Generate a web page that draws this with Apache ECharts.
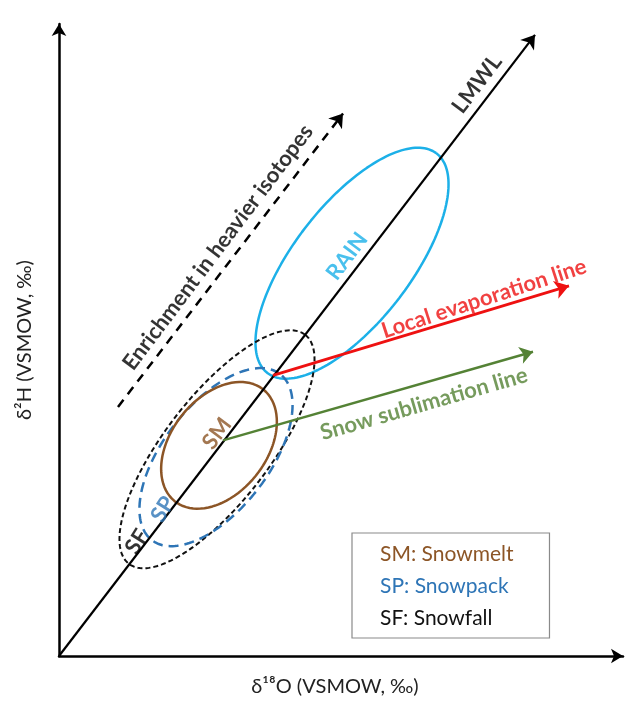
<!DOCTYPE html>
<html>
<head>
<meta charset="utf-8">
<script src="https://cdn.jsdelivr.net/npm/echarts@6/dist/echarts.min.js"></script>
<style>
html,body{margin:0;padding:0;background:#fff;}
#chart{width:630px;height:702px;}
</style>
</head>
<body>
<div id="chart"></div>
<script>
// ---- data (conceptual diagram units: δ18O on x, δ2H on y) ----
const xAxisName = 'δ¹⁸O (VSMOW, ‰)';
const yAxisName = 'δ²H (VSMOW, ‰)';

const lmwl = [[0, 0], [47.6, 63.1]];
const enrichmentArrow = [[5.9, 25.3], [28.4, 55.1]];
const evaporationLine = [[21.4, 28.5], [51.0, 37.6]];
const sublimationLine = [[16.4, 21.9], [47.4, 30.9]];

const ellipseNames = ['RAIN', 'SF: Snowfall', 'SP: Snowpack', 'SM: Snowmelt'];
const ellipseCenters = [[29.3, 39.9], [15.8, 21.0], [15.7, 20.2], [16.0, 21.4]];
const ellipseSemiMajor = [14.0, 14.6, 10.6, 7.2];
const ellipseSemiMinor = [5.9, 5.3, 5.3, 4.8];
const ellipseTiltDeg = [53, 53, 53, 53];

const annotationTexts = ['LMWL', 'Enrichment in heavier isotopes', 'RAIN', 'SM', 'SP', 'SF',
  'Local evaporation line', 'Snow sublimation line'];
const annotationPos = [[41.8, 58.1], [15.9, 41.5], [28.8, 40.6], [15.8, 22.6], [10.4, 14.9], [7.8, 11.6],
  [42.5, 36.3], [36.5, 25.6]];
const annotationRotate = [53, 53, 53, 53, 58, 58, 18, 16];

const legendNames = ['SM: Snowmelt', 'SP: Snowpack', 'SF: Snowfall'];

// ---- styles ----
const FONT = 'Lato';
const C = {
  rain: '#1cb0e8', sf: '#111111', sp: '#2e75b6', sm: '#8c5526',
  red: '#ee1111', green: '#548235', black: '#000000'
};
const ellipseStyles = [
  { color: C.rain, width: 2.5, type: 'solid' },
  { color: C.sf, width: 2, type: [5, 3] },
  { color: C.sp, width: 2.5, type: [10, 6] },
  { color: C.sm, width: 2.5, type: 'solid' }
];
const annotationColors = [C.black, C.black, C.rain, C.sm, C.sp, C.black, C.red, C.green];

function ellipsePoints(center, a, b, tiltDeg) {
  const t = tiltDeg * Math.PI / 180, pts = [];
  const N = 180;
  for (let i = 0; i <= N; i++) {
    const p = 2 * Math.PI * i / N;
    const ex = a * Math.cos(p), ey = b * Math.sin(p);
    pts.push([center[0] + ex * Math.cos(t) - ey * Math.sin(t),
              center[1] + ex * Math.sin(t) + ey * Math.cos(t)]);
  }
  return pts;
}

const series = [];
ellipseNames.forEach((name, i) => {
  series.push({
    name: name, type: 'line', showSymbol: false, symbol: 'none', smooth: false,
    data: ellipsePoints(ellipseCenters[i], ellipseSemiMajor[i], ellipseSemiMinor[i], ellipseTiltDeg[i]),
    lineStyle: ellipseStyles[i], itemStyle: { color: ellipseStyles[i].color },
    silent: true, z: 3, animation: false
  });
});

function arrow(coords, color, width, type, size) {
  return {
    type: 'lines', coordinateSystem: 'cartesian2d', silent: true, animation: false, z: 4,
    symbol: ['none', 'arrow'], symbolSize: size,
    lineStyle: { color: color, width: width, type: type, opacity: 1 },
    data: [{ coords: coords }]
  };
}
series.push(arrow(lmwl, C.black, 2.2, 'solid', 13));
series.push(arrow(enrichmentArrow, C.black, 2.5, [9, 7], 13));
series.push(arrow(evaporationLine, C.red, 2.8, 'solid', 14));
series.push(arrow(sublimationLine, C.green, 2.5, 'solid', 13));

series.push({
  type: 'scatter', symbolSize: 0, silent: true, animation: false, z: 6,
  data: annotationTexts.map((t, i) => ({
    value: annotationPos[i],
    label: {
      show: true, position: 'inside', formatter: t, rotate: annotationRotate[i],
      color: annotationColors[i], fontFamily: FONT, fontWeight: 'bold', fontSize: 22
    }
  }))
});

const chart = echarts.init(document.getElementById('chart'), null, { renderer: 'canvas' });
chart.setOption({
  backgroundColor: '#ffffff',
  animation: false,
  grid: { left: 59, right: 7, top: 24, bottom: 36, containLabel: false },
  xAxis: {
    type: 'value', min: 0, max: 56.4,
    name: xAxisName, nameLocation: 'middle', nameGap: 21,
    nameTextStyle: { fontFamily: FONT, fontSize: 20, color: '#222', padding: [0, 12, 0, 0] },
    axisLine: { show: true, onZero: false, symbol: ['none', 'arrow'], symbolSize: [11, 12], lineStyle: { color: '#000', width: 2.5 } },
    axisTick: { show: false }, axisLabel: { show: false }, splitLine: { show: false }
  },
  yAxis: {
    type: 'value', min: 0, max: 64.2,
    name: yAxisName, nameLocation: 'middle', nameGap: 24, nameRotate: 90,
    nameTextStyle: { fontFamily: FONT, fontSize: 20, color: '#222' },
    axisLine: { show: true, onZero: false, symbol: ['none', 'arrow'], symbolSize: [11, 12], lineStyle: { color: '#000', width: 2.5 } },
    axisTick: { show: false }, axisLabel: { show: false }, splitLine: { show: false }
  },
  legend: {
    show: true, selectedMode: false, orient: 'vertical', left: 352, top: 533,
    icon: 'none', itemWidth: 0, itemHeight: 10, itemGap: 8,
    padding: [9, 36, 8, 23],
    borderColor: '#8a8a8a', borderWidth: 1.2, backgroundColor: '#fff',
    textStyle: { fontFamily: FONT, fontSize: 21, lineHeight: 24 },
    data: [
      { name: legendNames[0], textStyle: { color: C.sm } },
      { name: legendNames[1], textStyle: { color: C.sp } },
      { name: legendNames[2], textStyle: { color: '#111' } }
    ]
  },
  series: series
});
</script>
</body>
</html>
